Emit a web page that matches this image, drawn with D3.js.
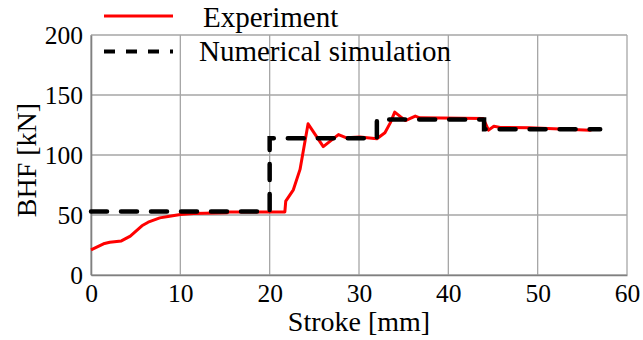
<!DOCTYPE html>
<html>
<head>
<meta charset="utf-8">
<script src="https://cdn.jsdelivr.net/npm/d3@7"></script>
<style>
  body { margin: 0; background: #fff; }
  svg text { font-family: "Liberation Serif", "Times New Roman", Times, serif !important; }
</style>
</head>
<body>
<svg id="chart" width="643" height="340" font-family="Liberation Serif, serif"></svg>
<script>
// Experiment (red) readings
var expX = [0, 1.4, 2.1, 3.4, 4.4, 5.7, 6.4, 7.7, 8.8, 10, 11.5, 15.2, 15.5, 21.7, 21.8, 22.65, 23.4, 24.3, 26.0, 27.7, 28.6, 30.1, 32.0, 32.9, 33.5, 34.0, 35.2, 36.3, 36.8, 43.9, 44.5, 45.1, 45.8, 49.1, 55.9, 56.2];
var expY = [21, 26, 27.3, 28.4, 32.4, 41, 44, 47.6, 49, 50.4, 51.2, 51.8, 52.6, 52.6, 61.5, 71, 88, 126, 107, 117, 114.3, 115, 113.5, 118.5, 126.8, 135.7, 128.7, 132.4, 131, 130.5, 120.7, 124, 123, 122.7, 120.7, 121.5];

// Numerical simulation (black dashed, stepwise)
var simX = [0, 20, 20, 32, 32, 44, 44, 57];
var simY = [53, 53, 114, 114, 129.5, 129.5, 121.5, 121.5];

var xTicks = [0, 10, 20, 30, 40, 50, 60];
var yTicks = [0, 50, 100, 150, 200];
var legendNames = ["Experiment", "Numerical simulation"];

(function() {
  var svg = d3.select("#chart");
  var mLeft = 91, mRight = 627, mTop = 35, mBottom = 275;

  var x = d3.scaleLinear().domain([0, 60]).range([mLeft, mRight]);
  var y = d3.scaleLinear().domain([0, 200]).range([mBottom, mTop]);

  // grid
  svg.append("g").selectAll("line").data(xTicks).enter().append("line")
    .attr("x1", function(d) { return x(d); }).attr("x2", function(d) { return x(d); })
    .attr("y1", mTop).attr("y2", mBottom)
    .attr("stroke", "#a6a6a6").attr("stroke-width", 1.3);
  svg.append("g").selectAll("line").data(yTicks).enter().append("line")
    .attr("x1", mLeft).attr("x2", mRight)
    .attr("y1", function(d) { return y(d); }).attr("y2", function(d) { return y(d); })
    .attr("stroke", "#a6a6a6").attr("stroke-width", 1.3);

  // axes
  var xAxis = svg.append("g").attr("transform", "translate(0," + mBottom + ")")
    .call(d3.axisBottom(x).tickValues(xTicks).tickSize(0).tickPadding(9));
  var yAxis = svg.append("g").attr("transform", "translate(" + mLeft + ",0)")
    .call(d3.axisLeft(y).tickValues(yTicks).tickSize(0).tickPadding(8));
  [xAxis, yAxis].forEach(function(a) {
    a.attr("font-family", null);
    a.select(".domain").attr("stroke", "#808080").attr("stroke-width", 1.6);
    a.selectAll("text").style("font-size", "25.5px").attr("fill", "#000");
  });
  xAxis.selectAll("text").attr("dy", "0.71em");

  // lines
  var line = d3.line()
    .x(function(d) { return x(d[0]); })
    .y(function(d) { return y(d[1]); });

  svg.append("path")
    .datum(expX.map(function(v, i) { return [v, expY[i]]; }))
    .attr("d", line)
    .attr("fill", "none").attr("stroke", "#ff0000").attr("stroke-width", 3)
    .attr("stroke-linejoin", "round");

  svg.append("path")
    .datum(simX.map(function(v, i) { return [v, simY[i]]; }))
    .attr("d", line)
    .attr("fill", "none").attr("stroke", "#000").attr("stroke-width", 4.5)
    .attr("stroke-dasharray", "16,14").attr("stroke-linecap", "round");

  // axis titles
  svg.append("text").attr("x", (mLeft + mRight) / 2).attr("y", 331)
    .attr("text-anchor", "middle").style("font-size", "28px").text("Stroke [mm]");
  svg.append("text").attr("transform", "translate(36,160) rotate(-90)")
    .attr("text-anchor", "middle").style("font-size", "28px").text("BHF [kN]");

  // legend (no background, grid shows through)
  var lg = svg.append("g");
  lg.append("line").attr("x1", 104).attr("x2", 173).attr("y1", 16).attr("y2", 16)
    .attr("stroke", "#ff0000").attr("stroke-width", 3);
  lg.append("line").attr("x1", 104).attr("x2", 173).attr("y1", 51.5).attr("y2", 51.5)
    .attr("stroke", "#000").attr("stroke-width", 4).attr("stroke-dasharray", "11,11");
  lg.selectAll("text").data(legendNames).enter().append("text")
    .attr("x", function(d, i) { return i === 0 ? 203 : 199; })
    .attr("y", function(d, i) { return i === 0 ? 27 : 61; })
    .style("font-size", "29px").text(function(d) { return d; });
})();
</script>
</body>
</html>
